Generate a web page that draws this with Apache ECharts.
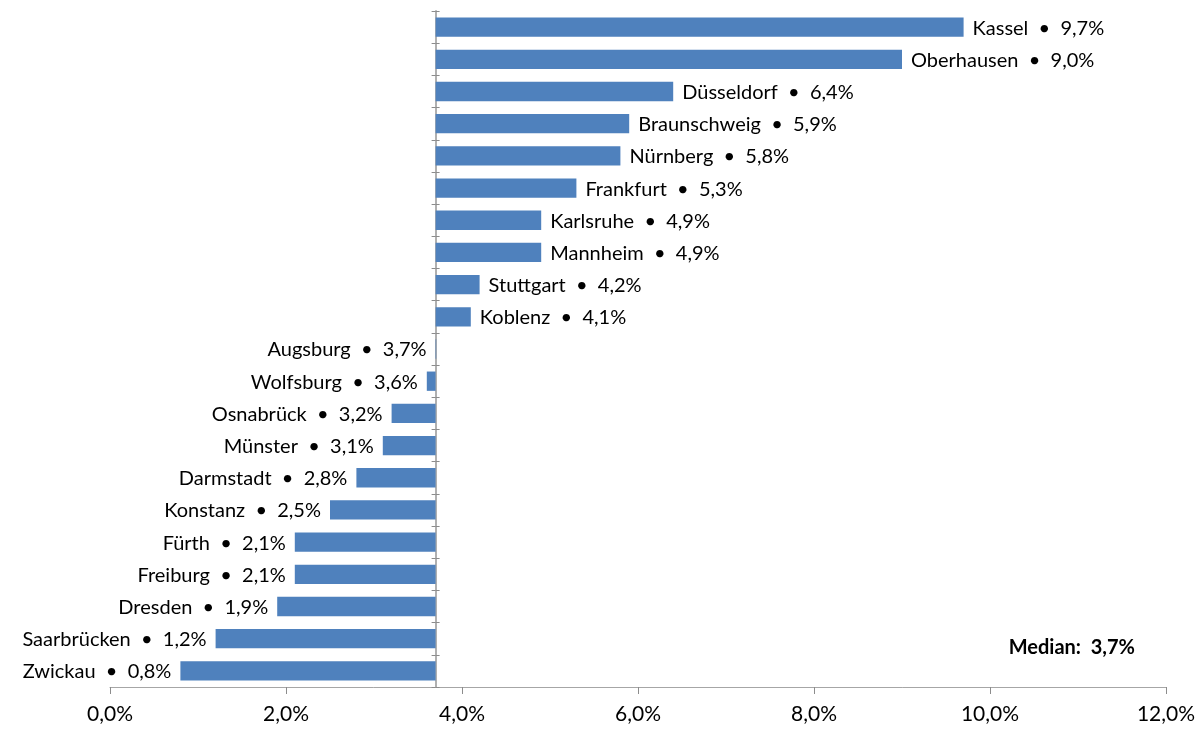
<!DOCTYPE html>
<html>
<head>
<meta charset="utf-8">
<script src="https://cdn.jsdelivr.net/npm/echarts@6/dist/echarts.min.js"></script>
<style>
  html, body { margin: 0; padding: 0; background: #fff; }
  #chart { width: 1200px; height: 729px; }
</style>
</head>
<body>
<div id="chart"></div>
<script>
// Share per city, drawn as deviation from the median
const categories = ['Kassel', 'Oberhausen', 'Düsseldorf', 'Braunschweig', 'Nürnberg', 'Frankfurt',
  'Karlsruhe', 'Mannheim', 'Stuttgart', 'Koblenz', 'Augsburg', 'Wolfsburg', 'Osnabrück', 'Münster',
  'Darmstadt', 'Konstanz', 'Fürth', 'Freiburg', 'Dresden', 'Saarbrücken', 'Zwickau'];
const values = [9.7, 9.0, 6.4, 5.9, 5.8, 5.3, 4.9, 4.9, 4.2, 4.1, 3.7, 3.6, 3.2, 3.1, 2.8, 2.5, 2.1, 2.1, 1.9, 1.2, 0.8];
const MEDIAN = 3.7;
const xTicks = [0, 2, 4, 6, 8, 10, 12];

const FONT = 'Lato, "Open Sans", sans-serif';
const fmt = v => v.toFixed(1).replace('.', ',') + '%';

const chart = echarts.init(document.getElementById('chart'));

const yAxisBase = {
  type: 'category',
  data: categories,
  inverse: true,
  position: 'left',
  axisLabel: { show: false },
  splitLine: { show: false },
  axisTick: { show: true, alignWithLabel: false, length: 4, lineStyle: { color: '#8c8c8c', width: 1 } }
};

chart.setOption({
  animation: false,
  grid: { left: 110, right: 34, top: 11, bottom: 42, containLabel: false },
  xAxis: {
    type: 'value',
    min: xTicks[0],
    max: xTicks[xTicks.length - 1],
    interval: 2,
    axisLine: { show: true, lineStyle: { color: '#a6a6a6', width: 1 } },
    axisTick: { show: true, length: 7, lineStyle: { color: '#8c8c8c' } },
    splitLine: { show: false },
    axisLabel: { formatter: v => fmt(v), color: '#000', fontFamily: FONT, fontSize: 21, margin: 17 }
  },
  yAxis: [
    Object.assign({}, yAxisBase, {
      axisLine: { show: true, onZero: false, lineStyle: { color: '#b0b0b0', width: 2 } }
    }),
    Object.assign({}, yAxisBase, {
      axisLine: { show: false, onZero: false },
      axisTick: Object.assign({}, yAxisBase.axisTick, { inside: true })
    })
  ],
  graphic: [{
    type: 'text',
    right: 65,
    top: 638,
    style: { text: 'Median:  3,7%', font: 'bold 20px ' + FONT, fill: '#000' }
  }],
  series: [{
    type: 'custom',
    xAxisIndex: 0,
    yAxisIndex: 0,
    data: values.map((v, i) => [v, i]),
    renderItem: function (params, api) {
      const v = api.value(0);
      const cat = api.value(1);
      const start = api.coord([MEDIAN, cat]);
      const end = api.coord([v, cat]);
      const h = api.size([0, 1])[1] * 0.6;
      const right = v > MEDIAN;
      const label = categories[params.dataIndex] + '  \u2022  ' + fmt(v);
      return {
        type: 'group',
        children: [{
          type: 'rect',
          shape: {
            x: Math.min(start[0], end[0]),
            y: start[1] - h / 2,
            width: Math.max(Math.abs(end[0] - start[0]), 0.6),
            height: h
          },
          style: { fill: '#4f81bd' }
        }, {
          type: 'text',
          x: end[0] + (right ? 9 : -9),
          y: start[1] + 1,
          style: {
            text: label,
            fill: '#000',
            font: '20px ' + FONT,
            align: right ? 'left' : 'right',
            verticalAlign: 'middle'
          }
        }]
      };
    }
  }]
});

// place the category axis at the median value
const medianPx = chart.convertToPixel({ xAxisIndex: 0 }, MEDIAN);
const off = -(medianPx - 110);
chart.setOption({ yAxis: [{ offset: off }, { offset: off }] });
</script>
</body>
</html>
